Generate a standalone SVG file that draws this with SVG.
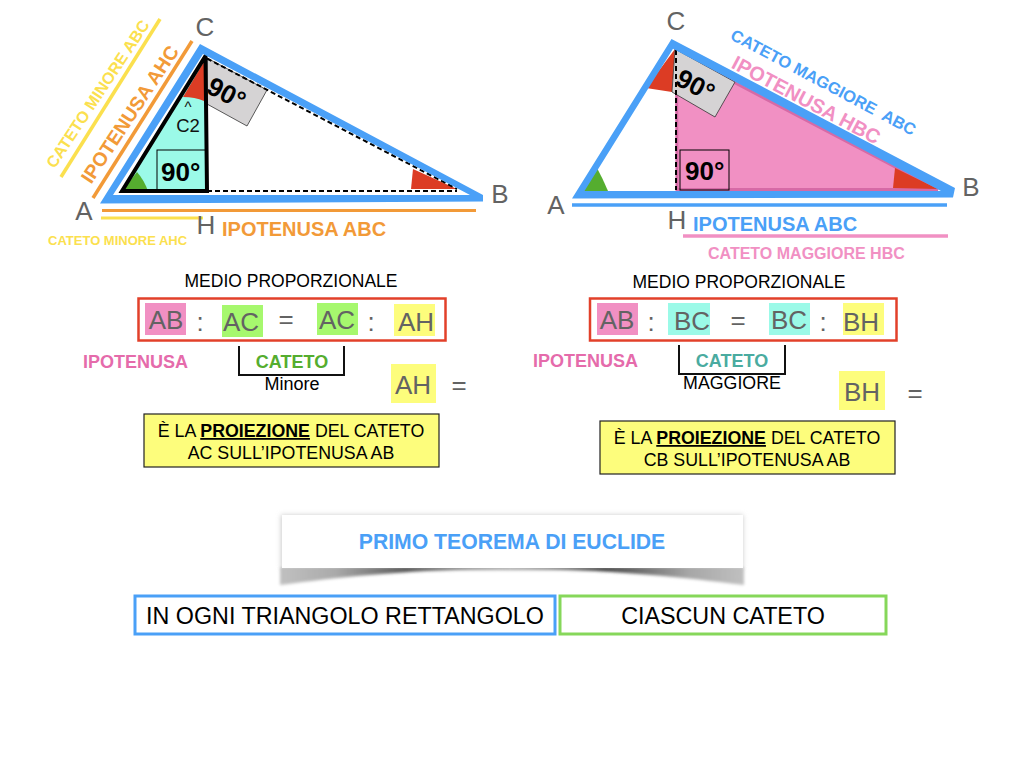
<svg xmlns="http://www.w3.org/2000/svg" width="1024" height="768" viewBox="0 0 1024 768">
<style>
text{font-family:"Liberation Sans",Arial,sans-serif}
.t{font-size:26px;fill:#636363;text-anchor:middle}
.b{font-weight:bold}
.m{text-anchor:middle}
.blue{fill:#4aa0f7;fill-rule:evenodd}
.dash{fill:none;stroke:#000;stroke-width:2;stroke-dasharray:5 3}
.deg{font-size:26px;font-weight:bold;fill:#000}
.sq{stroke:#000;stroke-width:1;fill:none}
.red{fill:#dc3c24}
.grn{fill:#55ad2f}
.box{fill:none;stroke:#e2402a;stroke-width:2.500}
.yb{fill:#fdfd7c;stroke:#222;stroke-width:1.200}
.yt{font-size:17.800px;fill:#000;text-anchor:middle}
.br{fill:none;stroke:#111;stroke-width:2}
.pk{fill:#f190c3}.gr{fill:#a6f86e}.te{fill:#9bfae8}.ye{fill:#fdfd7c}
.big{font-size:23.300px;fill:#000;text-anchor:middle}
.gray{fill:#d5d3d4;stroke:#333;stroke-width:.8}
</style>
<defs>
<linearGradient id="sh" x1="0" x2="1" y1="0" y2="0">
<stop offset="0" stop-color="#c0c0c0"/><stop offset=".12" stop-color="#aaa"/><stop offset=".27" stop-color="#5a5a5a"/><stop offset=".5" stop-color="#aaa"/><stop offset=".7" stop-color="#484848"/><stop offset=".88" stop-color="#a6a6a6"/><stop offset="1" stop-color="#c0c0c0"/>
</linearGradient>
<filter id="bl" x="-5%" y="-30%" width="110%" height="160%"><feGaussianBlur stdDeviation="1.700"/></filter>
<filter id="bl2" x="-5%" y="-30%" width="110%" height="160%"><feGaussianBlur stdDeviation="2.500"/></filter>
</defs>

<g id="triangle-left">
<path d="M122 191L205 58L207 191Z" fill="#9bfae8"/>
<path class="red" d="M205 60L183 97Q195 97 204 101Z"/>
<path class="grn" d="M137 172L122 191H148Q144 180 137 172Z"/>
<rect class="sq" x="157" y="150" width="49" height="41"/>
<path class="gray" d="M207 58L267 90L247 126L207 104Z"/>
<path class="red" d="M413 169L411 189H457Z"/>
<path class="dash" d="M207 58.500L457 189M207 191H457"/>
<path d="M122 191L205.500 56L207 191Z" fill="none" stroke="#000" stroke-width="4"/>
<path class="blue" d="M100 203.500L200 44L483 195V201.500ZM113 195L203 54L470 195Z"/>
<text class="deg" x="161" y="181">90°</text>
<text class="deg" transform="translate(205 92) rotate(28)">90°</text>
<text x="188" y="112" font-size="15" class="m" fill="#111">^</text>
<text x="188" y="132" font-size="18.500" class="m" fill="#111">C2</text>
</g>

<g id="triangle-right">
<path d="M676.500 52L938 189.500H677Z" fill="#f190c3" stroke="#d66aa6" stroke-width="3"/>
<path class="red" d="M675 49L646 88L672 92Z"/>
<path class="red" d="M895 168L893 188L938 189Z"/>
<path class="grn" d="M597 168L583 191H608Q603 179 597 168Z"/>
<path class="gray" d="M675 49L735 82L715 117L672 92Z"/>
<rect class="sq" x="680" y="150" width="49" height="40"/>
<path class="dash" d="M676 50V190"/>
<path class="blue" d="M572 198.500L671.500 39L955 188L953 197.500ZM584.500 191L673 48.800L941 191Z"/>
<text class="deg" x="685" y="180">90°</text>
<text class="deg" transform="translate(674 84) rotate(28)">90°</text>
</g>

<g id="connectors">
<path d="M102 210.500H476" stroke="#f29a38" stroke-width="3" fill="none"/>
<path d="M101 218H203" stroke="#fbe04e" stroke-width="3" fill="none"/>
<path d="M93 198L192 41" stroke="#f29a38" stroke-width="3.500" fill="none"/>
<path d="M61 177L160 19" stroke="#fbe04e" stroke-width="3.500" fill="none"/>
<path d="M572 205H947" stroke="#4aa0f7" stroke-width="3.500" fill="none"/>
<path d="M683 236H948" stroke="#f190c3" stroke-width="3.500" fill="none"/>
<path class="br" d="M239 346V375H344V346"/>
<path class="br" d="M679 345V374H785V345"/>
</g>

<g id="labels-left" fill="#636363" font-size="26">
<text x="205" y="36" class="m">C</text>
<text x="84" y="220" class="m">A</text>
<text x="206" y="234" class="m">H</text>
<text x="500" y="203" class="m">B</text>
<text class="b m" font-size="16.200" fill="#fbe04e" transform="translate(102.500 97) rotate(-56.500)">CATETO MINORE ABC</text>
<text class="b m" font-size="19.500" fill="#f29a38" transform="translate(135.500 118) rotate(-56.500)">IPOTENUSA AHC</text>
<text class="b" font-size="20" fill="#f29a38" x="222" y="236">IPOTENUSA ABC</text>
<text class="b" font-size="13" fill="#fbe04e" x="48" y="245">CATETO MINORE AHC</text>
</g>

<g id="labels-right" fill="#636363" font-size="26">
<text x="676" y="30" class="m">C</text>
<text x="556" y="214" class="m">A</text>
<text x="677" y="229" class="m">H</text>
<text x="971" y="196" class="m">B</text>
<text class="b m" font-size="16.500" fill="#4aa0f7" style="white-space:pre" transform="translate(820.700 87.300) rotate(28)">CATETO MAGGIORE  ABC</text>
<text class="b m" font-size="20" fill="#f190c3" transform="translate(803 106) rotate(28)">IPOTENUSA HBC</text>
<text class="b" font-size="20" fill="#4aa0f7" x="693" y="231">IPOTENUSA ABC</text>
<text class="b" font-size="16" fill="#f190c3" x="708" y="259">CATETO MAGGIORE HBC</text>
</g>

<g id="proportion-left">
<text x="291" y="287" font-size="17.500" class="m" fill="#000">MEDIO PROPORZIONALE</text>
<rect class="box" x="138.500" y="298.500" width="307" height="42"/>
<rect class="pk" x="145" y="303" width="41" height="32"/><text class="t" x="166" y="329">AB</text>
<text class="t" x="200" y="331">:</text>
<rect class="gr" x="222" y="305" width="41" height="32"/><text class="t" x="241" y="331">AC</text>
<text class="t" x="286" y="328">=</text>
<rect class="gr" x="317" y="303" width="41" height="32"/><text class="t" x="337" y="329">AC</text>
<text class="t" x="371" y="331">:</text>
<rect class="ye" x="394" y="304" width="41" height="32"/><text class="t" x="416" y="331">AH</text>
<text class="b" font-size="18" fill="#e56bab" x="83" y="368">IPOTENUSA</text>
<text class="b m" font-size="18" fill="#55ad2f" x="292" y="368">CATETO</text>
<text class="m" font-size="18" fill="#000" x="292" y="390">Minore</text>
<rect class="ye" x="391" y="364" width="45" height="39"/><text class="t" x="413" y="394">AH</text>
<text class="t" x="459" y="394">=</text>
<rect class="yb" x="144" y="414" width="295" height="53"/>
<text class="yt" x="291" y="437">È LA <tspan font-weight="bold" text-decoration="underline">PROIEZIONE</tspan> DEL CATETO</text>
<text class="yt" x="291" y="459">AC SULL’IPOTENUSA AB</text>
</g>

<g id="proportion-right">
<text x="739" y="288" font-size="17.500" class="m" fill="#000">MEDIO PROPORZIONALE</text>
<rect class="box" x="590" y="298.500" width="306.500" height="42"/>
<rect class="pk" x="597" y="303" width="41" height="32"/><text class="t" x="617" y="329">AB</text>
<text class="t" x="651" y="331">:</text>
<rect class="te" x="668" y="303" width="42" height="32"/><text class="t" x="692" y="330">BC</text>
<text class="t" x="738" y="329">=</text>
<rect class="te" x="769" y="303" width="41" height="32"/><text class="t" x="789" y="329">BC</text>
<text class="t" x="823" y="331">:</text>
<rect class="ye" x="843" y="303" width="41" height="32"/><text class="t" x="861" y="331">BH</text>
<text class="b" font-size="18" fill="#e56bab" x="533" y="367">IPOTENUSA</text>
<text class="b m" font-size="18" fill="#4aaba0" x="732" y="367">CATETO</text>
<text class="m" font-size="17.800" fill="#000" x="732" y="389">MAGGIORE</text>
<rect class="ye" x="839" y="371" width="46" height="39"/><text class="t" x="862" y="401">BH</text>
<text class="t" x="915" y="402">=</text>
<rect class="yb" x="600" y="421" width="295" height="53"/>
<text class="yt" x="747" y="444">È LA <tspan font-weight="bold" text-decoration="underline">PROIEZIONE</tspan> DEL CATETO</text>
<text class="yt" x="747" y="466">CB SULL’IPOTENUSA AB</text>
</g>

<g id="title">
<rect x="281" y="515" width="462" height="53" fill="#ccc" filter="url(#bl2)"/>
<path d="M280 567H744V585C680 577 600 568 512 570C420 568 340 577 280 585Z" fill="url(#sh)" filter="url(#bl)"/>
<rect x="282" y="515" width="461" height="53" fill="#fff"/>
<text x="512" y="549" class="b m" font-size="21.200" fill="#4aa0f7">PRIMO TEOREMA DI EUCLIDE</text>
</g>

<g id="box-triangolo">
<rect x="135" y="596" width="420" height="38" fill="#fff" stroke="#4aa0f7" stroke-width="3"/>
<text class="big" x="345" y="624">IN OGNI TRIANGOLO RETTANGOLO</text>
</g>
<g id="box-cateto">
<rect x="560" y="596" width="326" height="38" fill="#fff" stroke="#86d75a" stroke-width="3"/>
<text class="big" x="723" y="624">CIASCUN CATETO</text>
</g>
</svg>
